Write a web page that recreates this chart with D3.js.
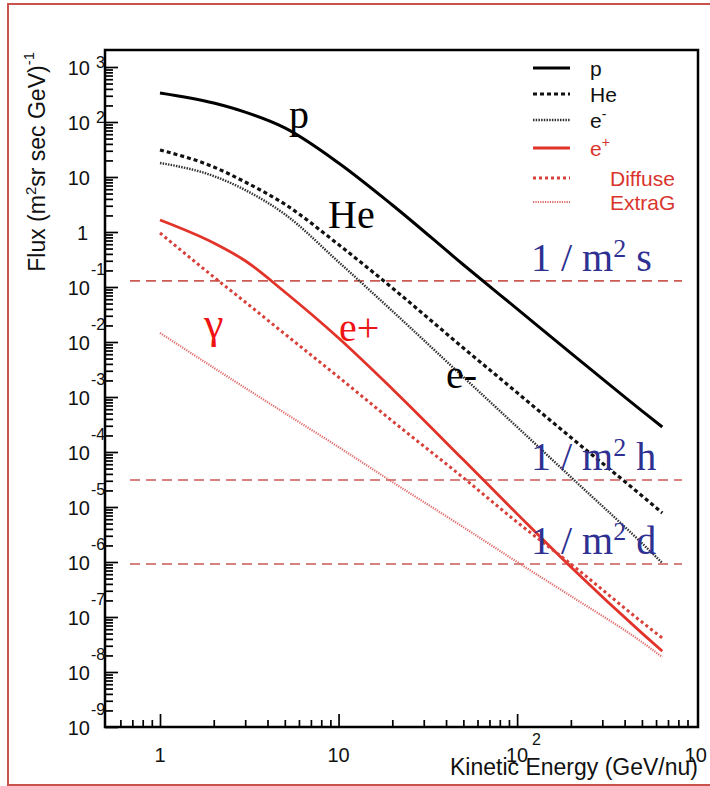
<!DOCTYPE html>
<html>
<head>
<meta charset="utf-8">
<script src="https://cdn.jsdelivr.net/npm/d3@7"></script>
<style>
  body { margin: 0; background: #fff; }
  svg { display: block; }
</style>
</head>
<body>
<script>
// energies where the curves were read (GeV/nu)
const energy = [1, 2, 3, 5, 10, 20, 50, 100, 200, 500, 650];

// flux values, m^-2 sr^-1 s^-1 GeV^-1
const fluxP       = [337, 221, 151, 78, 18, 3.1, 0.254, 0.040, 6.3e-3, 5.6e-4, 2.85e-4];
const fluxHe      = [31, 15.2, 8.1, 3.2, 0.59, 0.096, 7.8e-3, 1.2e-3, 1.84e-4, 1.6e-5, 7.8e-6];
const fluxEminus  = [18, 10.4, 5.8, 2.1, 0.285, 0.0366, 2.3e-3, 2.85e-4, 3.5e-5, 2.2e-6, 9.6e-7];
const fluxEplus   = [1.65, 0.63, 0.3, 0.081, 0.0118, 1.4e-3, 7.2e-5, 7.5e-6, 8.1e-7, 5.1e-8, 2.4e-8];
const fluxDiffuse = [0.96, 0.152, 0.0533, 0.014, 2.3e-3, 3.66e-4, 3.4e-5, 5.3e-6, 9.2e-7, 8.1e-8, 4.15e-8];
const fluxExtraG  = [0.0146, 3.4e-3, 1.46e-3, 5.1e-4, 1.23e-4, 2.85e-5, 4.3e-6, 1.0e-6, 2.4e-7, 3.5e-8, 1.87e-8];

// reference rates: 1 per m2 per second / hour / day
const rateValues = [0.129, 3.1e-5, 9.2e-7];
const rateUnits = ['s', 'h', 'd'];

const yExponents = d3.range(-9, 4);
const xExponents = [0, 1, 2, 3];

const width = 710, height = 786;
const plotLeft = 105, plotRight = 698, plotTop = 50, plotBottom = 727;
const sans = '"Liberation Sans", Arial, Helvetica, sans-serif';
const serif = '"Liberation Serif", "Times New Roman", serif';
const red = '#e2332b';

const svg = d3.select('body').append('svg')
  .attr('width', width)
  .attr('height', height);

// outer red frame
svg.append('rect')
  .attr('x', 8).attr('y', 4)
  .attr('width', 730).attr('height', 781)
  .attr('fill', 'none')
  .attr('stroke', '#c9524c')
  .attr('stroke-width', 2);

const x = d3.scaleLog().domain([10 ** -0.308, 10 ** 3.013]).range([plotLeft, plotRight]);
const y = d3.scaleLog().domain([1e-9, 10 ** (3 + 17 / 55)]).range([plotBottom, plotTop]);

// MINOR / MAJOR TICKS (inside the frame)
const xMinor = [];
[-1, 0, 1, 2].forEach(e => d3.range(2, 10).forEach(k => xMinor.push(k * 10 ** e)));
const yMinor = [];
yExponents.forEach(e => d3.range(2, 10).forEach(k => yMinor.push(k * 10 ** e)));

const inRange = (scale, v) => {
  const d = scale.domain();
  return v > d[0] * 1.05 && v < d[1] * 0.97;
};

function styleAxis(g) {
  g.select('.domain').remove();
  g.selectAll('line').attr('stroke', '#000').attr('stroke-width', 1.7);
}

svg.append('g')
  .attr('transform', `translate(0,${plotBottom})`)
  .call(d3.axisTop(x).tickValues(xMinor.filter(v => inRange(x, v))).tickSize(7).tickFormat(''))
  .call(styleAxis);
svg.append('g')
  .attr('transform', `translate(0,${plotBottom})`)
  .call(d3.axisTop(x).tickValues(xExponents.map(e => 10 ** e).filter(v => inRange(x, v))).tickSize(13).tickFormat(''))
  .call(styleAxis);

svg.append('g')
  .attr('transform', `translate(${plotLeft},0)`)
  .call(d3.axisRight(y).tickValues(yMinor.filter(v => inRange(y, v))).tickSize(8).tickFormat(''))
  .call(styleAxis);
svg.append('g')
  .attr('transform', `translate(${plotLeft},0)`)
  .call(d3.axisRight(y).tickValues(yExponents.map(e => 10 ** e)).tickSize(13).tickFormat(''))
  .call(styleAxis);

// plot frame
svg.append('rect')
  .attr('x', plotLeft).attr('y', plotTop)
  .attr('width', plotRight - plotLeft).attr('height', plotBottom - plotTop)
  .attr('fill', 'none')
  .attr('stroke', '#000')
  .attr('stroke-width', 2.5);

// Y TICK LABELS
const yLab = svg.append('g').attr('font-family', sans).attr('fill', '#111');
yExponents.forEach(e => {
  const ty = y(10 ** e);
  yLab.append('text')
    .attr('x', e === 0 ? 88 : 90).attr('y', ty + 8)
    .attr('text-anchor', 'end').attr('font-size', 20)
    .text(e === 0 ? '1' : '10');
  if (e >= 2) {
    yLab.append('text').attr('x', 96).attr('y', ty + 1).attr('font-size', 16).text(e);
  } else if (e < 0) {
    yLab.append('text').attr('x', 91).attr('y', ty - 12).attr('font-size', 16).text(e);
  }
});

// X TICK LABELS
const xLab = svg.append('g').attr('font-family', sans).attr('fill', '#111');
xExponents.forEach(e => {
  const tx = x(10 ** e);
  xLab.append('text')
    .attr('x', tx).attr('y', 762)
    .attr('text-anchor', 'middle').attr('font-size', 20)
    .text(e === 0 ? '1' : '10');
  if (e >= 2) {
    xLab.append('text').attr('x', tx + 15).attr('y', 745).attr('font-size', 16).text(e);
  }
});

// AXIS TITLES
svg.append('text')
  .attr('x', 698).attr('y', 775)
  .attr('text-anchor', 'end')
  .attr('font-family', sans).attr('font-size', 23).attr('fill', '#111')
  .text('Kinetic Energy (GeV/nu)');

const yTitle = svg.append('text')
  .attr('transform', 'translate(45,52) rotate(-90)')
  .attr('text-anchor', 'end')
  .attr('font-family', sans).attr('font-size', 23).attr('fill', '#111');
yTitle.append('tspan').text('Flux (m');
yTitle.append('tspan').attr('dy', -9).attr('font-size', 15).text('2');
yTitle.append('tspan').attr('dy', 9).text('sr sec GeV)');
yTitle.append('tspan').attr('dy', -11).attr('font-size', 15).text('-1');

// REFERENCE RATE LINES
svg.append('g').selectAll('line')
  .data(rateValues)
  .enter().append('line')
  .attr('x1', 130).attr('x2', 682)
  .attr('y1', d => y(d)).attr('y2', d => y(d))
  .attr('stroke', '#cc5a55')
  .attr('stroke-width', 1.6)
  .attr('stroke-dasharray', '10 6');

// SPECTRA
const series = [
  { name: 'p', values: fluxP, color: '#000', width: 3, dash: null },
  { name: 'He', values: fluxHe, color: '#111', width: 3.2, dash: '4 3' },
  { name: 'e-', values: fluxEminus, color: '#333', width: 2.4, dash: '1.5 1.2' },
  { name: 'e+', values: fluxEplus, color: red, width: 2.8, dash: null },
  { name: 'Diffuse', values: fluxDiffuse, color: '#d8403a', width: 3, dash: '3 3' },
  { name: 'ExtraG', values: fluxExtraG, color: '#e06a6a', width: 2.2, dash: '1.2 1.2' }
];

const line = d3.line()
  .x(d => x(d[0]))
  .y(d => y(d[1]))
  .curve(d3.curveMonotoneX);

svg.append('g').selectAll('path')
  .data(series)
  .enter().append('path')
  .attr('d', s => line(energy.map((e, i) => [e, s.values[i]])))
  .attr('fill', 'none')
  .attr('stroke', s => s.color)
  .attr('stroke-width', s => s.width)
  .attr('stroke-dasharray', s => s.dash);

// LEGEND
const legendY = [68, 94, 120, 148, 178, 202];
const legend = svg.append('g').selectAll('g')
  .data(series)
  .enter().append('g')
  .attr('transform', (s, i) => `translate(0,${legendY[i]})`);
legend.append('line')
  .attr('x1', 533).attr('x2', 570)
  .attr('stroke', s => s.color)
  .attr('stroke-width', s => s.width)
  .attr('stroke-dasharray', s => s.dash);
const legendText = legend.append('text')
  .attr('x', (s, i) => i < 4 ? 590 : 610)
  .attr('y', 8)
  .attr('font-family', sans).attr('font-size', 21)
  .attr('fill', (s, i) => i < 3 ? '#111' : '#d9352e');
legendText.each(function (s) {
  const t = d3.select(this);
  if (s.name === 'e-' || s.name === 'e+') {
    t.append('tspan').text('e');
    t.append('tspan').attr('dy', -9).attr('font-size', 14).text(s.name === 'e-' ? '-' : '+');
  } else {
    t.text(s.name);
  }
});

// CURVE ANNOTATIONS
const notes = svg.append('g').attr('font-family', serif).attr('font-size', 40);
notes.append('text').attr('x', 289).attr('y', 128).attr('fill', '#000').text('p');
notes.append('text').attr('x', 328).attr('y', 228).attr('fill', '#000').text('He');
notes.append('text').attr('x', 446).attr('y', 388).attr('fill', '#000').text('e-');
notes.append('text').attr('x', 339).attr('y', 341).attr('fill', '#f01414').text('e+');
notes.append('text').attr('x', 204).attr('y', 338).attr('fill', '#f01414').attr('font-size', 44).text('γ');

const rateText = svg.append('g').selectAll('text')
  .data(rateValues)
  .enter().append('text')
  .attr('x', 531)
  .attr('y', d => y(d) - 10)
  .attr('font-family', serif).attr('font-size', 40)
  .attr('fill', '#2e3192');
rateText.append('tspan').text('1 / m');
rateText.append('tspan').attr('dy', -14).attr('font-size', 26).text('2');
rateText.append('tspan').attr('dy', 14).text((d, i) => ' ' + rateUnits[i]);
</script>
</body>
</html>
